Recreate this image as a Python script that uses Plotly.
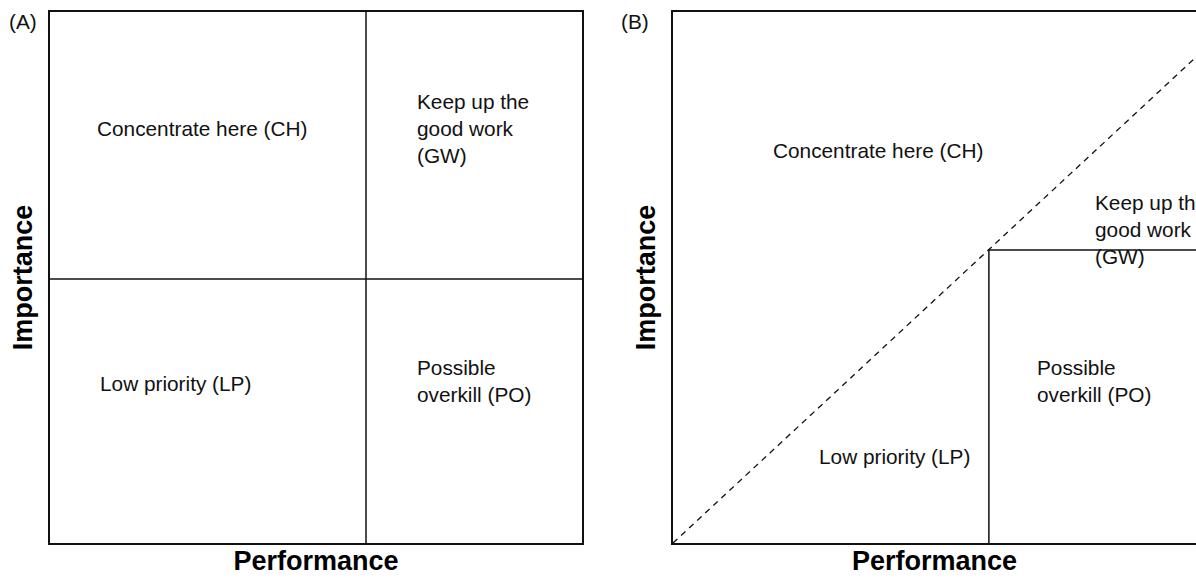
import plotly.graph_objects as go

# ---- data (normalised Performance / Importance units, 0..1) ----
a_vline_x = [0.594, 0.594]
a_vline_y = [0.0, 1.0]
a_hline_x = [0.0, 1.0]
a_hline_y = [0.497, 0.497]

b_diag_x = [0.0, 1.0]
b_diag_y = [0.0, 0.915]
b_step_x = [0.604, 0.604, 1.0]
b_step_y = [0.0, 0.552, 0.552]

a_labels = ["Concentrate here (CH)", "Keep up the<br>good work<br>(GW)",
            "Low priority (LP)", "Possible<br>overkill (PO)"]
a_lab_x = [0.286, 0.686, 0.090, 0.686]
a_lab_y = [0.780, 0.780, 0.301, 0.305]
a_anchor = ["center", "left", "left", "left"]

b_labels = ["Concentrate here (CH)", "Keep up the<br>good work<br>(GW)",
            "Possible<br>overkill (PO)", "Low priority (LP)"]
b_lab_x = [0.392, 0.803, 0.692, 0.423]
b_lab_y = [0.740, 0.591, 0.305, 0.162]
b_anchor = ["center", "left", "left", "center"]

panel_tags = ["(A)", "(B)"]
x_title = "Performance"
y_title = "Importance"

FONT = "Liberation Sans, Arial, Helvetica, sans-serif"
LC = "#111111"
LABEL_SIZE = 20.8

fig = go.Figure()

line = dict(color=LC, width=1.5)
fig.add_trace(go.Scatter(x=a_vline_x, y=a_vline_y, mode="lines", line=line,
                         xaxis="x", yaxis="y", hoverinfo="skip"))
fig.add_trace(go.Scatter(x=a_hline_x, y=a_hline_y, mode="lines", line=line,
                         xaxis="x", yaxis="y", hoverinfo="skip"))
fig.add_trace(go.Scatter(x=b_diag_x, y=b_diag_y, mode="lines",
                         line=dict(color=LC, width=1.3, dash="6px,5px"),
                         xaxis="x2", yaxis="y2", hoverinfo="skip"))
fig.add_trace(go.Scatter(x=b_step_x, y=b_step_y, mode="lines", line=line,
                         xaxis="x2", yaxis="y2", hoverinfo="skip"))

W, H = 1196, 578
ydom = [35 / H, 566 / H]
ax_common = dict(range=[0, 1], showgrid=False, zeroline=False, showticklabels=False,
                 ticks="", showline=True, linecolor=LC, linewidth=1.5,
                 fixedrange=True, automargin=False)

title_font = dict(family=FONT, size=27, color="#000000")

fig.update_layout(
    width=W, height=H,
    margin=dict(l=0, r=0, t=0, b=0),
    paper_bgcolor="white", plot_bgcolor="white",
    showlegend=False,
    font=dict(family=FONT, size=LABEL_SIZE, color="#111111"),
    xaxis=dict(ax_common, domain=[50 / W, 582 / W], mirror=True, anchor="y",
               title=dict(text="<b>" + x_title + "</b>", font=title_font, standoff=7)),
    yaxis=dict(ax_common, domain=ydom, mirror=True, anchor="x",
               title=dict(text="<b>" + y_title + "</b>", font=title_font, standoff=8)),
    xaxis2=dict(ax_common, domain=[673 / W, 1.0], mirror=True, anchor="y2",
                title=dict(text="<b>" + x_title + "</b>", font=title_font, standoff=7)),
    yaxis2=dict(ax_common, domain=ydom, mirror=False, anchor="x2",
                title=dict(text="<b>" + y_title + "</b>", font=title_font, standoff=8)),
)

annotations = []
for t, x, y, a in zip(a_labels, a_lab_x, a_lab_y, a_anchor):
    annotations.append(dict(text=t, x=x, y=y, xref="x", yref="y", xanchor=a,
                            yanchor="middle", align="left", showarrow=False,
                            font=dict(family=FONT, size=LABEL_SIZE, color="#111111")))
for t, x, y, a in zip(b_labels, b_lab_x, b_lab_y, b_anchor):
    annotations.append(dict(text=t, x=x, y=y, xref="x2", yref="y2", xanchor=a,
                            yanchor="middle", align="left", showarrow=False,
                            font=dict(family=FONT, size=LABEL_SIZE, color="#111111")))
tag_x = [23 / W, 635 / W]
for t, x in zip(panel_tags, tag_x):
    annotations.append(dict(text=t, x=x, y=1 - 21 / H, xref="paper", yref="paper",
                            xanchor="center", yanchor="middle", showarrow=False,
                            font=dict(family=FONT, size=LABEL_SIZE, color="#111111")))
fig.update_layout(annotations=annotations)

fig.write_html("out.html", config={"displayModeBar": False},
               post_script="document.body.style.margin='0';document.body.style.overflow='hidden';")
